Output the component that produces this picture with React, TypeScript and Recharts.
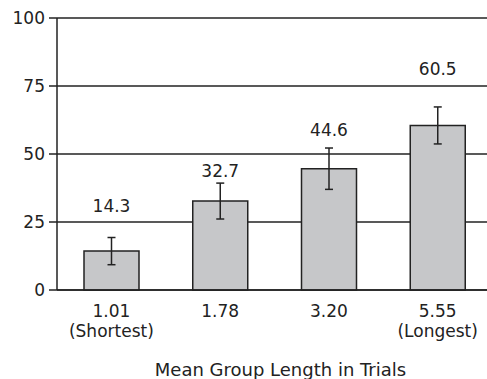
import React from 'react';
import { BarChart, Bar, XAxis, YAxis, CartesianGrid, ErrorBar, LabelList } from 'recharts';

// values
const groupLengths = ['1.01', '1.78', '3.20', '5.55'];
const groupNotes = ['(Shortest)', '', '', '(Longest)'];
const means = [14.3, 32.7, 44.6, 60.5];
const errors = [5.0, 6.6, 7.6, 6.8];
const yTicks = [0, 25, 50, 75, 100];

const data = groupLengths.map((g, i) => ({
  group: g,
  note: groupNotes[i],
  mean: means[i],
  err: errors[i],
}));

const FONT = '"DejaVu Sans", sans-serif';
const INK = '#222';
// how far each value label sits above its bar top (px)
const LABEL_LIFT = [39, 24, 33, 50];

const GroupTick = (props: any) => {
  const { x, y, payload, index } = props;
  const note = groupNotes[index];
  return (
    <g>
      <text x={x} y={y + 27} textAnchor="middle" fill={INK} fontSize={17} fontFamily={FONT}>
        {payload.value}
      </text>
      {note && (
        <text x={x} y={y + 46.5} textAnchor="middle" fill={INK} fontSize={17} fontFamily={FONT}>
          {note}
        </text>
      )}
    </g>
  );
};

const ValueLabel = (props: any) => {
  const { x, y, width, value, index } = props;
  return (
    <text
      x={x + width / 2}
      y={y - LABEL_LIFT[index]}
      textAnchor="middle"
      fill={INK}
      fontSize={17}
      fontFamily={FONT}
    >
      {Number(value).toFixed(1)}
    </text>
  );
};

const AxisTitle = (props: any) => {
  const { viewBox } = props;
  return (
    <text
      x={viewBox.x + viewBox.width / 2 + 6}
      y={viewBox.y + viewBox.height - 3}
      textAnchor="middle"
      fill={INK}
      fontSize={18}
      fontFamily={FONT}
    >
      Mean Group Length in Trials
    </text>
  );
};

export default function App() {
  return (
    <div style={{ position: 'absolute', left: 0, top: 0, width: 487, height: 379, background: '#fff' }}>
      <BarChart width={487} height={379} data={data} margin={{ top: 18, right: -5, left: 0, bottom: 0 }}>
        <CartesianGrid vertical={false} stroke={INK} strokeWidth={1.5} />
        <XAxis
          dataKey="group"
          height={89}
          tickLine={false}
          tickSize={0}
          tickMargin={0}
          axisLine={{ stroke: INK, strokeWidth: 1.5 }}
          tick={<GroupTick />}
          interval={0}
          label={<AxisTitle />}
        />
        <YAxis
          width={57}
          domain={[0, 100]}
          ticks={yTicks}
          interval={0}
          tickSize={8}
          tickMargin={4}
          tickLine={{ stroke: INK, strokeWidth: 1.5 }}
          axisLine={{ stroke: INK, strokeWidth: 1.5 }}
          tick={{ fill: INK, fontSize: 17, fontFamily: FONT }}
        />
        <Bar dataKey="mean" barSize={55} fill="#c6c7c9" stroke={INK} strokeWidth={1.5} isAnimationActive={false}>
          <ErrorBar dataKey="err" width={4} stroke={INK} strokeWidth={1.5} />
          <LabelList dataKey="mean" content={<ValueLabel />} />
        </Bar>
      </BarChart>
    </div>
  );
}
